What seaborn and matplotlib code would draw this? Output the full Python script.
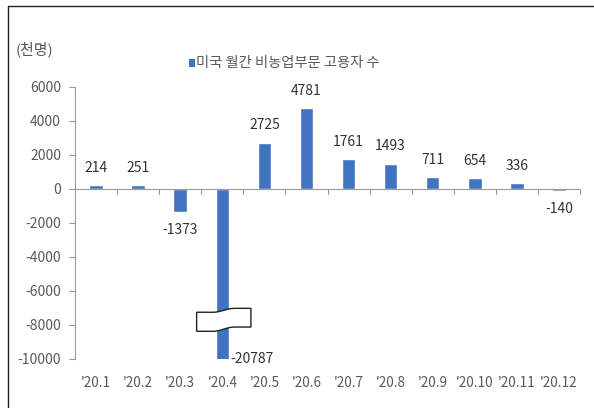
import numpy as np
import pandas as pd
import matplotlib
matplotlib.use("Agg")
import matplotlib.pyplot as plt
from matplotlib.patches import Polygon, Rectangle
import seaborn as sns

categories = ["'20.1", "'20.2", "'20.3", "'20.4", "'20.5", "'20.6",
              "'20.7", "'20.8", "'20.9", "'20.10", "'20.11", "'20.12"]
values = [214, 251, -1373, -20787, 2725, 4781, 1761, 1493, 711, 654, 336, -140]
yticks = [6000, 4000, 2000, 0, -2000, -4000, -6000, -8000, -10000]
series_name = "미국 월간 비농업부문 고용자 수"
unit_label = "(천명)"

sns.set_theme(style="white")
plt.rcParams['font.family'] = ['Noto Sans CJK KR', 'DejaVu Sans']

BAR = "#4074c0"
GRAY = "#595959"

fig = plt.figure(figsize=(5.94, 4.08), dpi=100)
ax = fig.add_axes([75/594, 1-359/408, (580-75)/594, (359-87)/408])

df = pd.DataFrame({"month": categories, "value": values})
sns.barplot(data=df, x="month", y="value", color=BAR, width=0.32,
            saturation=1, ax=ax)

ax.set_ylim(-10000, 6000)
ax.set_xlim(-0.5, len(categories) - 0.5)
ax.set_yticks(yticks)
ax.set_yticklabels([str(t) for t in yticks], fontsize=10, color=GRAY)
ax.set_xticks(range(len(categories)))
ax.set_xticklabels(categories, fontsize=9.8, color=GRAY)
ax.set_xlabel("")
ax.set_ylabel("")

for s in ["top", "right", "bottom"]:
    ax.spines[s].set_visible(False)
ax.spines["left"].set_color("#9a9a9a")
ax.spines["left"].set_linewidth(0.8)
ax.axhline(0, color="#9a9a9a", lw=0.8, zorder=1)

ax.tick_params(axis="y", which="major", length=4, width=0.8, color="#9a9a9a",
               direction="out", left=True, pad=6)
ax.tick_params(axis="x", which="major", length=0, pad=12)
# category boundary ticks on the zero line
for b in np.arange(0.5, len(categories) - 0.5 + 1e-9, 1.0):
    ax.plot([b, b], [0, -300], color="#9a9a9a", lw=0.8, zorder=1,
            clip_on=False)

# value labels
for i, v in enumerate(values):
    if i == 3:
        ax.text(i + 0.2, -10000, f"{v}", ha="left", va="center",
                fontsize=10, color="#333333")
    elif v >= 0:
        ax.text(i, v + 600, f"{v}", ha="center", va="bottom",
                fontsize=10, color="#333333")
    else:
        ax.text(i, v - 600, f"{v}", ha="center", va="top",
                fontsize=10, color="#333333")

# break symbol on the clipped bar
t = np.linspace(0, 1, 40)
xl, xr = 3 - 0.61, 3 + 0.68
xs = xl + (xr - xl) * t
wave = 0.5 * (1 - np.cos(np.pi * np.clip((t - 0.3) / 0.4, 0, 1)))
top = -7250 + wave * 230
bot = -8370 + wave * 250
pts = list(zip(xs, top)) + list(zip(xs[::-1], bot[::-1]))
ax.add_patch(Polygon(pts, closed=True, facecolor="white", edgecolor="#222222",
                     lw=1.0, zorder=5))

# legend
fig.patches.append(Rectangle((189/594, 1-66.5/408), 6/594, 7/408,
                             transform=fig.transFigure, facecolor=BAR,
                             edgecolor="none"))
fig.text(196/594, 1-63/408, series_name, ha="left", va="center",
         fontsize=10.3, color=GRAY)
fig.text(16/594, 1-49/408, unit_label, ha="left", va="center",
         fontsize=10.8, color=GRAY)

# outer frame (left and top visible)
fig.lines.append(plt.Line2D([7.5/594, 7.5/594], [0, 1-6/408],
                            transform=fig.transFigure, color="#222222", lw=1.0))
fig.lines.append(plt.Line2D([7.5/594, 1], [1-6/408, 1-6/408],
                            transform=fig.transFigure, color="#222222", lw=1.0))

fig.savefig("out.png", dpi=100)
